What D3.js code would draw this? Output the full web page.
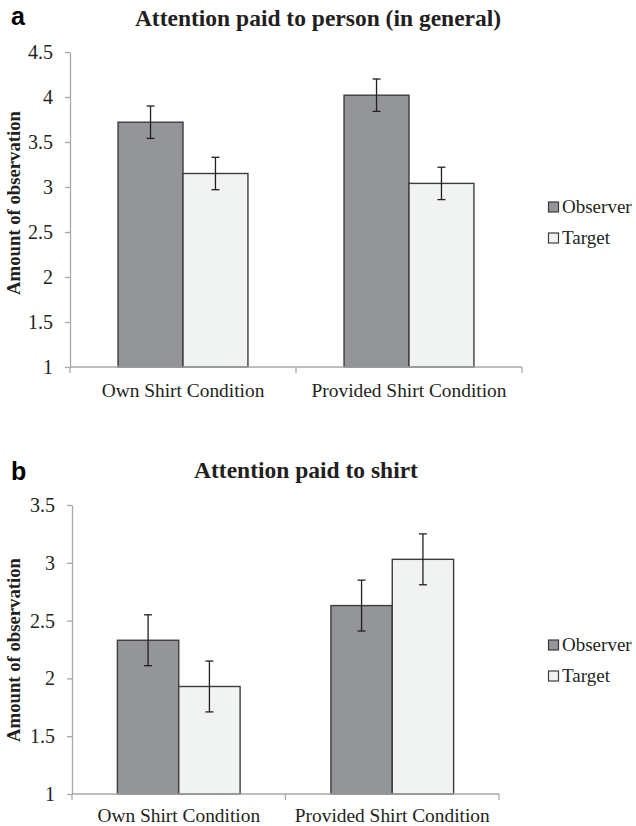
<!DOCTYPE html>
<html>
<head>
<meta charset="utf-8">
<script src="https://cdn.jsdelivr.net/npm/d3@7"></script>
<style>
  body { margin: 0; background: #fff; }
  svg { display: block; }
</style>
</head>
<body>
<script>
// data
var categories = ["Own Shirt Condition", "Provided Shirt Condition"];
var seriesNames = ["Observer", "Target"];

var personObserver = [3.72, 4.02];
var personTarget = [3.15, 3.04];
var personObserverErr = [0.18, 0.18];
var personTargetErr = [0.18, 0.18];
var personTicks = [1, 1.5, 2, 2.5, 3, 3.5, 4, 4.5];

var shirtObserver = [2.33, 2.63];
var shirtTarget = [1.93, 3.03];
var shirtObserverErr = [0.22, 0.22];
var shirtTargetErr = [0.22, 0.22];
var shirtTicks = [1, 1.5, 2, 2.5, 3, 3.5];

var colors = {Observer: "#939598", Target: "#f1f2f2"};
var serif = "'Liberation Serif', 'Times New Roman', serif";

var svg = d3.select("body")
	.append("svg")
	.attr("width", 636)
	.attr("height", 826);

function drawPanel(opt){
	var g = svg.append("g");

	var x = d3.scaleBand()
		.domain(categories)
		.range([opt.left, opt.right])
		.padding(0);

	// observer / target inside each category
	var xs = d3.scaleBand()
		.domain(seriesNames)
		.range([0, x.bandwidth()])
		.paddingInner(0)
		.paddingOuter(0.74);

	var y = d3.scaleLinear()
		.domain([d3.min(opt.ticks), d3.max(opt.ticks)])
		.range([opt.bottom, opt.top]);

	// panel letter
	g.append("text")
		.attr("x", 11)
		.attr("y", opt.letterY)
		.style("font-family", "'Liberation Sans', Arial, sans-serif")
		.style("font-weight", "bold")
		.style("font-size", "25px")
		.text(opt.letter);

	// title
	g.append("text")
		.attr("x", opt.titleX)
		.attr("y", opt.titleY)
		.attr("text-anchor", "middle")
		.style("font-family", serif)
		.style("font-weight", "bold")
		.style("font-size", "23.5px")
		.attr("fill", "#231f20")
		.text(opt.title);

	// y axis
	var yAxis = g.append("g")
		.attr("transform", "translate(" + opt.left + ",0)")
		.call(d3.axisLeft(y)
			.tickValues(opt.ticks)
			.tickFormat(function(d){ return String(d); })
			.tickSize(5)
			.tickSizeOuter(0)
			.tickPadding(12));
	yAxis.select(".domain").attr("stroke", "#a7a9ac").attr("stroke-width", 1.3);
	yAxis.selectAll(".tick line").attr("stroke", "#a7a9ac").attr("stroke-width", 1.3);
	yAxis.selectAll(".tick text")
		.style("font-family", serif)
		.style("font-size", "20px")
		.attr("fill", "#231f20");

	// y axis label
	g.append("text")
		.attr("transform", "translate(20," + opt.labelY + ") rotate(-90)")
		.attr("text-anchor", "middle")
		.style("font-family", serif)
		.style("font-weight", "bold")
		.style("font-size", "18.7px")
		.attr("fill", "#231f20")
		.text("Amount of observation");

	// bars
	var rows = [];
	categories.forEach(function(c, i){
		rows.push({cat: c, s: "Observer", v: opt.observer[i], e: opt.observerErr[i]});
		rows.push({cat: c, s: "Target", v: opt.target[i], e: opt.targetErr[i]});
	});

	g.selectAll("rect.bar")
		.data(rows)
		.enter()
		.append("rect")
		.attr("class", "bar")
		.attr("x", function(d){ return x(d.cat) + xs(d.s); })
		.attr("y", function(d){ return y(d.v); })
		.attr("width", xs.bandwidth())
		.attr("height", function(d){ return y.range()[0] - y(d.v); })
		.attr("fill", function(d){ return colors[d.s]; })
		.attr("stroke", "#3c3c3e")
		.attr("stroke-width", 1.4);

	// x axis line + boundary ticks
	g.append("line")
		.attr("x1", opt.left)
		.attr("x2", opt.right)
		.attr("y1", opt.bottom)
		.attr("y2", opt.bottom)
		.attr("stroke", "#a7a9ac")
		.attr("stroke-width", 1.3);

	var bounds = [x.range()[0]].concat(categories.map(function(c){ return x(c) + x.bandwidth(); }));
	g.selectAll("line.xtick")
		.data(bounds)
		.enter()
		.append("line")
		.attr("class", "xtick")
		.attr("x1", function(d){ return d; })
		.attr("x2", function(d){ return d; })
		.attr("y1", opt.bottom)
		.attr("y2", opt.bottom + 6)
		.attr("stroke", "#a7a9ac")
		.attr("stroke-width", 1.3);

	g.selectAll("text.cat")
		.data(categories)
		.enter()
		.append("text")
		.attr("class", "cat")
		.attr("x", function(d){ return x(d) + x.bandwidth() / 2; })
		.attr("y", opt.bottom + opt.catDy)
		.attr("text-anchor", "middle")
		.style("font-family", serif)
		.style("font-size", "19.4px")
		.attr("fill", "#231f20")
		.text(function(d){ return d; });

	// error bars
	var err = g.selectAll("g.err")
		.data(rows)
		.enter()
		.append("g")
		.attr("class", "err")
		.attr("stroke", "#231f20")
		.attr("stroke-width", 1.3);
	var cx = function(d){ return x(d.cat) + xs(d.s) + xs.bandwidth() / 2; };
	err.append("line")
		.attr("x1", cx).attr("x2", cx)
		.attr("y1", function(d){ return y(d.v + d.e); })
		.attr("y2", function(d){ return y(d.v - d.e); });
	err.append("line")
		.attr("x1", function(d){ return cx(d) - 4; }).attr("x2", function(d){ return cx(d) + 4; })
		.attr("y1", function(d){ return y(d.v + d.e); })
		.attr("y2", function(d){ return y(d.v + d.e); });
	err.append("line")
		.attr("x1", function(d){ return cx(d) - 4; }).attr("x2", function(d){ return cx(d) + 4; })
		.attr("y1", function(d){ return y(d.v - d.e); })
		.attr("y2", function(d){ return y(d.v - d.e); });

	// legend
	var leg = g.selectAll("g.leg")
		.data(seriesNames)
		.enter()
		.append("g")
		.attr("class", "leg")
		.attr("transform", function(d, i){ return "translate(548," + (opt.legendY + i * 31) + ")"; });
	leg.append("rect")
		.attr("x", 0.5)
		.attr("y", -5)
		.attr("width", 10)
		.attr("height", 10)
		.attr("fill", function(d){ return colors[d]; })
		.attr("stroke", "#3c3c3e")
		.attr("stroke-width", 1.2);
	leg.append("text")
		.attr("x", 14)
		.attr("y", 6)
		.style("font-family", serif)
		.style("font-size", "19px")
		.attr("fill", "#231f20")
		.text(function(d){ return d; });
}

drawPanel({
	letter: "a", letterY: 25,
	title: "Attention paid to person (in general)", titleX: 318, titleY: 26,
	left: 70, right: 522, top: 52, bottom: 367,
	ticks: personTicks,
	observer: personObserver, target: personTarget,
	observerErr: personObserverErr, targetErr: personTargetErr,
	labelY: 203, catDy: 30, legendY: 207
});

drawPanel({
	letter: "b", letterY: 480,
	title: "Attention paid to shirt", titleX: 306, titleY: 478,
	left: 72, right: 499, top: 505, bottom: 794,
	ticks: shirtTicks,
	observer: shirtObserver, target: shirtTarget,
	observerErr: shirtObserverErr, targetErr: shirtTargetErr,
	labelY: 650, catDy: 28, legendY: 645
});
</script>
</body>
</html>
